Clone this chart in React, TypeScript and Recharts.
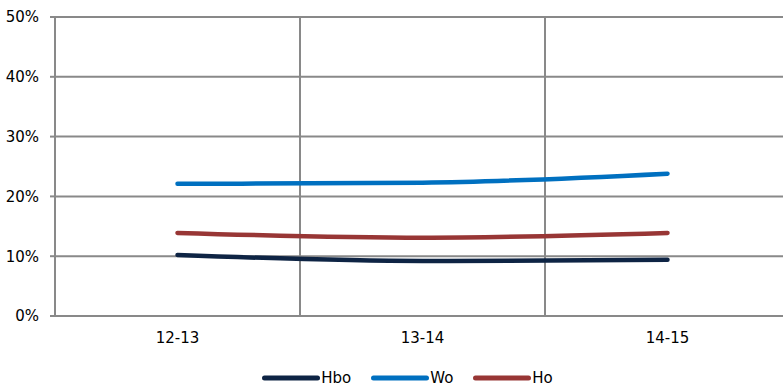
import { CartesianGrid, Legend, Line, LineChart, XAxis, YAxis } from "recharts";

const periods = ["12-13", "13-14", "14-15"];
const hbo = [10.2, 9.2, 9.4];
const wo = [22.1, 22.3, 23.8];
const ho = [13.9, 13.1, 13.9];
const yTicks = [0, 10, 20, 30, 40, 50];
const gridTicks = [0, 1, 2, 3];

const SERIES = [
  { key: "Hbo", color: "#0e2444" },
  { key: "Wo", color: "#0070c0" },
  { key: "Ho", color: "#983635" },
];

const GRID = "#898989";
const FONT = "'DejaVu Sans', sans-serif";

const data = periods.map((p, i) => ({ period: p, pos: i + 0.5, Hbo: hbo[i], Wo: wo[i], Ho: ho[i] }));

function LegendRow() {
  return (
    <div
      style={{
        display: "flex",
        justifyContent: "center",
        paddingLeft: 32,
        fontFamily: FONT,
        fontSize: 15,
        color: "#000",
        height: 20,
        alignItems: "center",
      }}
    >
      {SERIES.map((s, i) => (
        <span key={s.key} style={{ display: "flex", alignItems: "center", marginRight: i < SERIES.length - 1 ? 20 : 0 }}>
          <svg width={58} height={10} aria-hidden="true">
            <line x1={2.5} y1={5} x2={55.5} y2={5} stroke={s.color} strokeWidth={5} strokeLinecap="round" />
          </svg>
          <span style={{ marginLeft: 1 }}>{s.key}</span>
        </span>
      ))}
    </div>
  );
}

export default function App() {
  return (
    <div style={{ position: "fixed", left: 0, top: 0, width: 783, height: 386, overflow: "hidden", background: "#fff" }}>
      <LineChart width={800} height={386} data={data} margin={{ top: 17, right: 10, left: 0, bottom: 20 }}>
        <XAxis xAxisId="grid" type="number" dataKey="pos" domain={[0, 3]} ticks={gridTicks} hide />
        <CartesianGrid xAxisId="grid" stroke={GRID} strokeWidth={2} horizontal vertical />
        <XAxis
          dataKey="period"
          scale="band"
          height={30}
          axisLine={{ stroke: GRID, strokeWidth: 2 }}
          tickLine={false}
          tick={{ fill: "#000", fontSize: 15, fontFamily: FONT }}
          tickMargin={10}
        />
        <YAxis
          width={55}
          domain={[0, 50]}
          ticks={yTicks}
          tickFormatter={(v) => `${v}%`}
          axisLine={{ stroke: GRID, strokeWidth: 2 }}
          tickLine={{ stroke: GRID, strokeWidth: 2 }}
          tickSize={5}
          tickMargin={11}
          tick={{ fill: "#000", fontSize: 15, fontFamily: FONT }}
        />
        {SERIES.map((s) => (
          <Line
            key={s.key}
            dataKey={s.key}
            type="monotone"
            stroke={s.color}
            strokeWidth={4.5}
            strokeLinecap="round"
            dot={false}
            activeDot={false}
            isAnimationActive={false}
          />
        ))}
        <Legend content={() => <LegendRow />} wrapperStyle={{ bottom: -2, left: 0, width: 783 }} />
      </LineChart>
    </div>
  );
}
